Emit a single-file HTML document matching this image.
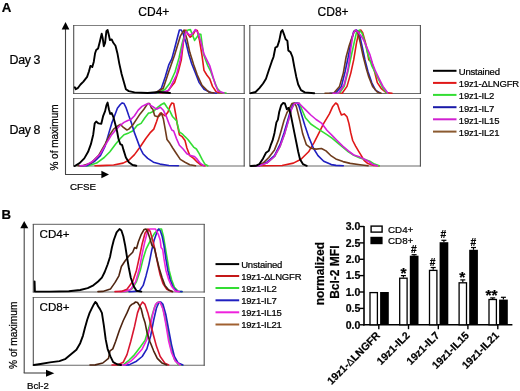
<!DOCTYPE html>
<html><head><meta charset="utf-8"><style>
html,body{margin:0;padding:0;background:#fff;}
body{width:520px;height:391px;overflow:hidden;}
svg{display:block;font-family:"Liberation Sans", sans-serif;will-change:transform;}
text{stroke:#000;stroke-width:0.22px;paint-order:stroke;}
</style></head><body>
<svg width="520" height="391" viewBox="0 0 520 391">
<rect width="520" height="391" fill="#fff"/>
<text x="1.8" y="12.1" font-size="13.3" font-weight="bold" text-anchor="start" >A</text>
<text x="138.3" y="16.2" font-size="12" font-weight="normal" text-anchor="start" >CD4+</text>
<text x="317.6" y="16.2" font-size="12" font-weight="normal" text-anchor="start" >CD8+</text>
<text x="9.6" y="63.6" font-size="12.4" font-weight="normal" text-anchor="start" letter-spacing="-0.4">Day 3</text>
<text x="9.6" y="133.6" font-size="12.4" font-weight="normal" text-anchor="start" letter-spacing="-0.4">Day 8</text>
<line x1="73.2" y1="25.5" x2="244.7" y2="25.5" stroke="#808080" stroke-width="1.1"/><line x1="73.2" y1="93.5" x2="244.7" y2="93.5" stroke="#6a6a6a" stroke-width="1.1"/><line x1="73.7" y1="25.0" x2="73.7" y2="94.0" stroke="#505050" stroke-width="1.1"/><line x1="244.2" y1="25.0" x2="244.2" y2="94.0" stroke="#505050" stroke-width="1.1"/>
<line x1="249.3" y1="25.5" x2="420.9" y2="25.5" stroke="#808080" stroke-width="1.1"/><line x1="249.3" y1="93.5" x2="420.9" y2="93.5" stroke="#6a6a6a" stroke-width="1.1"/><line x1="249.8" y1="25.0" x2="249.8" y2="94.0" stroke="#505050" stroke-width="1.1"/><line x1="420.4" y1="25.0" x2="420.4" y2="94.0" stroke="#505050" stroke-width="1.1"/>
<line x1="73.2" y1="98.5" x2="244.7" y2="98.5" stroke="#808080" stroke-width="1.1"/><line x1="73.2" y1="166" x2="244.7" y2="166" stroke="#6a6a6a" stroke-width="1.1"/><line x1="73.7" y1="98.0" x2="73.7" y2="166.5" stroke="#505050" stroke-width="1.1"/><line x1="244.2" y1="98.0" x2="244.2" y2="166.5" stroke="#505050" stroke-width="1.1"/>
<line x1="249.3" y1="98.5" x2="420.9" y2="98.5" stroke="#808080" stroke-width="1.1"/><line x1="249.3" y1="166" x2="420.9" y2="166" stroke="#6a6a6a" stroke-width="1.1"/><line x1="249.8" y1="98.0" x2="249.8" y2="166.5" stroke="#505050" stroke-width="1.1"/><line x1="420.4" y1="98.0" x2="420.4" y2="166.5" stroke="#505050" stroke-width="1.1"/>
<polyline points="160.0,93.0 167.0,92.0 174.6,82.6 178.4,71.2 181.3,59.9 183.1,44.7 184.7,31.5 186.0,30.0 187.9,34.3 190.2,37.2 192.6,35.3 195.5,30.0 197.3,30.5 199.6,40.9 202.1,56.1 204.0,70.3 206.8,75.0 209.7,78.8 212.5,86.4 216.3,92.0 222.0,93.0" fill="none" stroke="#e01818" stroke-width="1.6" stroke-linejoin="round" stroke-linecap="round"/>
<polyline points="158.0,93.0 165.2,89.2 170.0,83.0 175.0,72.0 179.0,58.0 182.0,44.0 185.0,33.0 188.0,30.0 190.4,29.6 192.5,35.0 194.6,40.4 197.0,37.0 199.0,34.0 200.8,34.2 202.3,45.0 203.5,54.0 204.9,58.0 207.8,65.6 210.6,71.2 213.4,78.8 217.2,88.3 221.0,92.5 226.0,93.0" fill="none" stroke="#33dd33" stroke-width="1.6" stroke-linejoin="round" stroke-linecap="round"/>
<polyline points="150.0,93.0 156.6,92.6 161.4,88.3 165.2,76.9 168.9,64.6 171.8,58.9 174.6,48.5 177.5,37.2 179.4,30.0 181.3,30.0 183.1,33.4 186.0,42.8 188.8,54.2 191.7,63.7 195.5,73.1 199.2,82.6 204.0,89.2 210.6,92.5 216.3,93.2" fill="none" stroke="#2020c0" stroke-width="1.6" stroke-linejoin="round" stroke-linecap="round"/>
<polyline points="155.0,93.0 163.3,88.3 168.9,71.2 174.6,55.1 180.3,36.2 184.1,30.0 186.9,39.0 189.8,52.3 193.6,64.6 197.3,75.0 202.0,85.4 208.7,92.0 214.0,93.0" fill="none" stroke="#6e3b1c" stroke-width="1.6" stroke-linejoin="round" stroke-linecap="round"/>
<polyline points="160.0,93.0 168.9,90.2 176.5,75.0 180.3,59.9 183.1,42.8 186.0,31.5 189.8,35.3 192.6,33.4 195.5,29.6 198.3,33.4 201.1,42.8 204.0,54.2 206.8,59.9 209.7,65.6 212.5,75.0 215.3,84.5 218.2,91.1 224.0,93.0" fill="none" stroke="#d41ed8" stroke-width="1.6" stroke-linejoin="round" stroke-linecap="round"/>
<polyline points="74.8,87.3 75.8,89.2 77.7,88.2 80.5,84.5 83.4,81.6 87.1,76.9 89.0,71.2 90.4,65.9 92.3,67.0 93.8,61.7 95.1,53.2 96.2,50.0 98.1,48.5 100.0,40.9 101.7,33.7 102.7,38.1 103.8,46.2 105.1,42.8 106.4,31.1 107.6,30.0 108.9,35.2 109.9,40.0 111.7,39.4 113.3,42.8 115.5,45.7 117.4,53.2 119.3,63.6 121.6,74.0 124.0,82.6 125.9,89.2 128.8,91.1 134.5,92.4 147.7,93.0 159.0,92.0 170.0,93.0" fill="none" stroke="#000000" stroke-width="1.9" stroke-linejoin="round" stroke-linecap="round"/>
<polyline points="338.0,93.2 342.3,93.0 347.0,86.4 350.8,73.1 353.7,59.9 356.5,42.8 358.8,32.4 360.7,30.0 362.6,32.4 365.0,40.9 366.9,48.5 368.8,59.9 371.7,61.7 374.5,71.2 377.3,82.6 381.1,88.3 385.9,92.5 392.0,93.2" fill="none" stroke="#e01818" stroke-width="1.6" stroke-linejoin="round" stroke-linecap="round"/>
<polyline points="335.0,93.2 339.5,93.0 344.2,86.4 348.0,71.2 350.8,58.0 353.7,44.7 356.5,32.4 359.4,30.0 362.2,33.4 365.0,42.8 367.9,54.2 371.7,65.6 375.5,73.1 379.2,80.7 383.0,88.3 386.8,93.0" fill="none" stroke="#33dd33" stroke-width="1.6" stroke-linejoin="round" stroke-linecap="round"/>
<polyline points="330.0,93.2 335.7,93.0 341.4,86.4 345.2,71.2 348.0,58.0 350.8,42.8 353.7,31.5 356.5,30.0 359.4,34.3 362.2,46.6 365.0,59.9 367.9,71.2 371.7,82.6 375.5,90.2 380.2,93.2" fill="none" stroke="#2020c0" stroke-width="1.6" stroke-linejoin="round" stroke-linecap="round"/>
<polyline points="325.0,93.2 333.8,93.0 339.5,86.4 343.3,73.1 346.1,57.0 348.9,46.6 351.8,38.1 354.6,30.5 357.5,31.5 360.3,42.8 363.1,56.1 366.0,67.4 368.8,76.9 372.6,86.4 377.3,92.0 381.1,93.2" fill="none" stroke="#6e3b1c" stroke-width="1.6" stroke-linejoin="round" stroke-linecap="round"/>
<polyline points="333.0,93.2 338.5,93.0 344.2,84.5 348.0,69.3 350.8,48.5 353.1,33.4 355.6,30.0 358.4,32.4 361.3,36.2 364.1,40.9 366.9,47.6 369.8,54.2 372.6,63.7 375.5,71.2 379.2,78.8 383.0,86.4 387.8,93.0" fill="none" stroke="#d41ed8" stroke-width="1.6" stroke-linejoin="round" stroke-linecap="round"/>
<polyline points="250.8,93.2 255.6,92.0 259.4,88.2 263.1,83.5 266.0,78.8 268.8,70.3 271.7,61.7 273.5,57.0 275.4,47.5 277.3,46.6 279.2,40.9 281.1,31.5 282.4,30.0 284.0,34.3 285.5,39.0 287.4,40.9 288.3,50.4 290.6,52.3 292.5,57.0 294.4,67.4 296.3,76.9 298.2,84.5 301.0,90.1 304.8,92.4 314.2,93.2" fill="none" stroke="#000000" stroke-width="1.9" stroke-linejoin="round" stroke-linecap="round"/>
<polyline points="95.0,165.8 100.4,165.6 113.6,165.0 123.1,163.1 128.8,160.3 134.5,154.6 140.1,147.0 145.8,138.5 150.0,132.9 153.8,129.1 156.6,121.5 158.5,115.8 160.4,113.0 162.3,113.9 165.2,115.8 168.0,112.0 169.9,106.4 171.8,103.0 173.7,103.5 175.6,113.9 177.5,125.3 179.4,134.8 182.2,136.7 185.0,140.5 186.9,148.0 189.8,155.6 193.6,158.4 197.3,162.2 201.1,165.0 204.9,165.8" fill="none" stroke="#e01818" stroke-width="1.6" stroke-linejoin="round" stroke-linecap="round"/>
<polyline points="84.0,165.8 89.0,165.6 96.6,163.1 104.2,157.5 109.9,151.8 115.5,144.2 120.3,138.5 124.0,134.7 128.8,132.9 132.6,131.0 137.3,125.3 141.1,123.4 144.9,117.7 148.6,113.0 150.0,113.0 153.8,111.1 157.6,107.3 161.4,104.5 164.2,103.0 167.0,107.3 169.9,111.1 172.7,116.8 176.5,120.6 179.4,131.9 182.2,133.8 185.0,136.7 187.9,139.5 190.7,143.3 193.6,147.1 196.4,149.0 199.2,153.7 202.1,159.4 204.9,164.1 207.8,165.8" fill="none" stroke="#33dd33" stroke-width="1.6" stroke-linejoin="round" stroke-linecap="round"/>
<polyline points="80.0,165.8 87.1,165.6 94.7,161.2 100.4,155.6 105.1,146.1 108.9,132.9 111.7,123.4 114.6,115.8 117.4,108.2 120.3,104.5 122.2,102.9 124.0,103.5 125.9,107.3 128.8,115.8 131.6,123.4 134.5,132.9 137.3,140.4 140.1,148.0 143.0,153.7 147.7,158.4 153.4,162.2 160.0,164.1 168.9,165.5 178.4,165.8" fill="none" stroke="#2020c0" stroke-width="1.6" stroke-linejoin="round" stroke-linecap="round"/>
<polyline points="78.0,165.8 83.4,165.6 90.9,163.1 98.5,155.6 105.1,144.2 109.9,134.7 113.6,129.1 117.4,126.2 120.3,124.3 123.1,127.2 126.9,130.0 128.8,129.1 132.6,125.3 136.3,119.6 140.1,113.9 143.9,109.2 147.7,103.5 149.6,103.5 151.5,108.2 152.8,109.2 154.7,115.8 157.6,116.8 159.5,115.8 161.4,113.0 163.3,118.7 165.2,129.1 167.0,139.5 169.9,143.3 172.7,148.0 176.5,153.7 180.3,159.4 185.0,162.2 189.8,164.7 195.5,165.8" fill="none" stroke="#6e3b1c" stroke-width="1.6" stroke-linejoin="round" stroke-linecap="round"/>
<polyline points="80.0,165.8 85.2,165.6 92.8,161.2 100.4,153.7 107.0,142.3 111.7,134.7 116.5,129.1 120.3,125.3 124.0,122.4 127.8,120.5 130.7,119.6 134.5,115.8 138.2,110.1 142.0,106.4 145.8,104.5 148.6,103.5 151.5,106.0 153.8,107.3 156.6,109.2 160.4,107.3 163.3,110.2 166.1,115.8 168.9,123.4 171.8,130.0 173.7,131.0 176.5,138.6 179.4,145.2 183.1,149.0 186.9,153.7 190.7,155.6 194.5,156.5 197.3,159.4 200.2,163.2 204.0,165.8" fill="none" stroke="#d41ed8" stroke-width="1.6" stroke-linejoin="round" stroke-linecap="round"/>
<polyline points="74.8,166.0 79.6,163.1 84.3,158.4 88.1,151.8 90.9,144.2 93.2,134.7 94.7,123.4 96.2,121.5 98.5,123.4 101.3,123.8 103.2,115.8 105.1,111.1 106.4,105.4 107.6,102.6 108.9,109.2 110.2,113.9 111.7,113.0 113.3,116.8 115.1,123.4 117.0,131.0 118.4,138.5 120.3,144.2 122.2,145.2 123.5,149.9 125.9,157.5 128.8,162.2 132.6,165.0 136.3,165.8" fill="none" stroke="#000000" stroke-width="1.9" stroke-linejoin="round" stroke-linecap="round"/>
<polyline points="258.0,165.8 263.1,165.7 282.1,165.5 293.4,163.1 301.0,159.3 308.6,151.8 314.2,142.3 319.0,132.9 323.7,123.4 329.4,113.9 332.8,106.4 335.7,103.0 337.6,104.5 339.5,110.2 341.4,114.9 344.2,113.9 347.0,116.8 348.9,123.4 350.8,132.9 352.7,140.5 355.6,146.1 358.4,150.9 361.3,155.6 364.1,160.3 367.9,163.6 373.6,165.5 379.2,165.8" fill="none" stroke="#e01818" stroke-width="1.6" stroke-linejoin="round" stroke-linecap="round"/>
<polyline points="254.0,165.8 259.4,165.6 266.9,163.1 274.5,156.5 280.2,146.1 284.9,132.9 288.7,119.6 291.5,109.2 294.4,103.5 298.5,103.0 300.0,105.0 302.5,111.0 305.4,117.7 310.8,124.0 316.1,127.6 321.5,131.2 326.9,134.7 332.3,138.3 337.6,142.8 343.0,147.3 348.4,151.8 353.8,155.3 360.0,158.0 365.0,159.4 369.8,161.3 374.5,164.1 379.2,165.8" fill="none" stroke="#33dd33" stroke-width="1.6" stroke-linejoin="round" stroke-linecap="round"/>
<polyline points="254.0,165.8 259.4,165.6 266.9,162.2 274.5,155.6 280.2,144.2 284.0,132.9 287.7,120.5 290.6,110.1 293.4,103.5 297.2,103.0 299.1,106.4 301.9,115.8 304.8,125.3 308.6,136.6 313.3,148.0 318.0,155.6 323.7,161.2 331.3,164.6 336.0,165.4 343.3,165.8" fill="none" stroke="#2020c0" stroke-width="1.6" stroke-linejoin="round" stroke-linecap="round"/>
<polyline points="252.0,165.8 257.5,165.6 263.1,163.1 268.8,157.5 274.5,149.9 278.3,140.4 281.1,131.0 284.0,120.5 286.8,113.0 289.6,108.2 291.9,103.5 294.4,103.0 296.3,106.4 298.2,113.9 300.0,121.3 302.7,133.8 306.3,144.6 310.8,148.2 316.1,149.1 321.5,148.5 326.0,150.9 330.5,155.3 335.8,158.9 343.0,161.6 350.2,163.4 360.0,164.7 368.0,165.8" fill="none" stroke="#6e3b1c" stroke-width="1.6" stroke-linejoin="round" stroke-linecap="round"/>
<polyline points="254.0,165.8 259.4,165.6 266.9,163.1 274.5,156.5 280.2,146.1 284.9,132.9 288.7,119.6 291.5,109.2 294.4,103.5 299.1,103.0 300.0,104.3 305.4,109.6 310.8,115.0 316.1,119.5 321.5,123.1 326.9,130.3 332.3,135.6 337.6,141.0 343.0,146.4 348.4,150.9 353.8,155.0 360.0,157.1 365.0,159.5 368.8,161.5 372.6,164.5 377.3,165.8" fill="none" stroke="#d41ed8" stroke-width="1.6" stroke-linejoin="round" stroke-linecap="round"/>
<polyline points="250.8,166.0 255.6,165.8 259.4,164.1 263.1,158.4 266.0,152.7 268.8,150.8 270.7,145.2 272.6,140.4 274.5,132.9 276.4,122.4 277.9,119.6 279.2,112.0 281.1,105.4 283.0,103.0 284.9,103.5 286.8,109.2 288.7,107.9 290.6,113.9 292.5,123.4 294.4,132.9 296.3,142.3 298.2,151.8 300.0,159.3 302.9,164.1 306.7,165.8" fill="none" stroke="#000000" stroke-width="1.9" stroke-linejoin="round" stroke-linecap="round"/>
<line x1="65.5" y1="28" x2="65.5" y2="174.5" stroke="#444444" stroke-width="1.1"/>
<line x1="65" y1="174.5" x2="103" y2="174.5" stroke="#444444" stroke-width="1.1"/>
<polygon points="65.5,22 61.7,29.5 69.4,29.5" fill="#000"/>
<polygon points="109,174.5 101.4,170.8 101.4,178.2" fill="#000"/>
<text x="0" y="0" font-size="10" font-weight="normal" text-anchor="middle" transform="translate(57.6,137.5) rotate(-90)">% of maximum</text>
<text x="70" y="190.4" font-size="9.8" font-weight="normal" text-anchor="start" >CFSE</text>
<line x1="433" y1="70.8" x2="456.5" y2="70.8" stroke="#000000" stroke-width="2"/>
<text x="458.8" y="75.3" font-size="9.5" font-weight="normal" text-anchor="start" letter-spacing="-0.2">Unstained</text>
<line x1="433" y1="82.9" x2="456.5" y2="82.9" stroke="#e01818" stroke-width="2"/>
<text x="458.8" y="87.4" font-size="9.5" font-weight="normal" text-anchor="start" letter-spacing="-0.2">19z1-ΔLNGFR</text>
<line x1="433" y1="94.9" x2="456.5" y2="94.9" stroke="#33dd33" stroke-width="2"/>
<text x="458.8" y="99.4" font-size="9.5" font-weight="normal" text-anchor="start" letter-spacing="-0.2">19z1-IL2</text>
<line x1="433" y1="107.2" x2="456.5" y2="107.2" stroke="#1a1aa8" stroke-width="2"/>
<text x="458.8" y="111.7" font-size="9.5" font-weight="normal" text-anchor="start" letter-spacing="-0.2">19z1-IL7</text>
<line x1="433" y1="119.3" x2="456.5" y2="119.3" stroke="#d020d0" stroke-width="2"/>
<text x="458.8" y="123.8" font-size="9.5" font-weight="normal" text-anchor="start" letter-spacing="-0.2">19z1-IL15</text>
<line x1="433" y1="131.6" x2="456.5" y2="131.6" stroke="#8b5a30" stroke-width="2"/>
<text x="458.8" y="136.1" font-size="9.5" font-weight="normal" text-anchor="start" letter-spacing="-0.2">19z1-IL21</text>
<text x="1.5" y="218.9" font-size="13.2" font-weight="bold" text-anchor="start" >B</text>
<line x1="32.8" y1="224.4" x2="204.7" y2="224.4" stroke="#808080" stroke-width="1.1"/><line x1="32.8" y1="292" x2="204.7" y2="292" stroke="#6a6a6a" stroke-width="1.1"/><line x1="33.3" y1="223.9" x2="33.3" y2="292.5" stroke="#505050" stroke-width="1.1"/><line x1="204.2" y1="223.9" x2="204.2" y2="292.5" stroke="#505050" stroke-width="1.1"/>
<line x1="32.8" y1="297.5" x2="204.7" y2="297.5" stroke="#808080" stroke-width="1.1"/><line x1="32.8" y1="365.2" x2="204.7" y2="365.2" stroke="#6a6a6a" stroke-width="1.1"/><line x1="33.3" y1="297.0" x2="33.3" y2="365.7" stroke="#505050" stroke-width="1.1"/><line x1="204.2" y1="297.0" x2="204.2" y2="365.7" stroke="#505050" stroke-width="1.1"/>
<polyline points="122.0,291.6 127.0,291.4 132.7,288.2 136.5,281.6 140.3,270.2 143.1,258.9 146.0,249.4 148.8,243.7 151.7,238.0 154.5,233.3 157.3,230.5 159.6,229.0 161.5,229.0 163.4,236.2 165.3,247.5 167.2,258.9 169.1,270.2 171.6,279.7 174.4,287.3 178.2,291.3 182.0,291.6" fill="none" stroke="#33dd33" stroke-width="1.6" stroke-linejoin="round" stroke-linecap="round"/>
<polyline points="129.0,291.6 133.7,291.4 139.4,291.0 143.2,285.4 146.0,275.9 148.9,264.6 151.5,251.3 154.2,239.9 156.8,232.4 158.5,229.0 160.2,230.5 162.1,236.2 164.0,245.6 165.9,258.9 167.8,270.2 170.2,279.7 173.1,287.3 177.2,291.3 182.0,291.6" fill="none" stroke="#2020c0" stroke-width="1.6" stroke-linejoin="round" stroke-linecap="round"/>
<polyline points="120.0,291.6 125.3,291.4 130.9,289.2 135.7,281.6 139.5,268.3 142.3,253.2 144.8,241.8 147.3,232.4 149.5,229.0 152.6,229.0 155.5,229.0 158.3,234.3 160.2,239.9 161.1,247.5 162.7,249.4 164.0,258.9 165.9,270.2 168.7,279.7 171.6,286.3 175.3,291.1 179.1,291.6" fill="none" stroke="#ee22dd" stroke-width="1.6" stroke-linejoin="round" stroke-linecap="round"/>
<polyline points="115.0,291.6 121.4,291.4 127.0,289.2 132.7,281.6 136.5,270.2 139.4,257.0 142.2,243.7 145.0,233.3 147.9,229.0 150.2,231.4 152.6,239.9 154.5,247.5 156.4,257.0 158.3,266.5 160.2,275.0 163.0,283.5 166.8,289.2 171.6,291.6" fill="none" stroke="#d81530" stroke-width="1.6" stroke-linejoin="round" stroke-linecap="round"/>
<polyline points="98.0,291.6 102.8,291.4 110.4,289.1 115.1,282.4 118.9,275.8 121.4,266.5 125.2,260.8 128.9,256.0 132.7,252.2 134.6,247.5 136.5,248.5 138.4,241.8 141.3,234.3 144.1,229.5 146.0,229.0 147.9,232.4 149.8,238.0 152.0,245.6 154.5,248.5 156.4,257.0 159.2,268.3 162.1,277.8 164.9,285.4 168.7,290.1 172.5,291.6" fill="none" stroke="#4e2410" stroke-width="1.6" stroke-linejoin="round" stroke-linecap="round"/>
<polyline points="34.6,281.5 34.9,291.5 35.7,291.6 49.9,291.6 68.8,291.2 80.2,290.0 87.7,288.1 93.4,285.3 98.1,281.5 101.9,277.7 104.7,272.0 107.6,264.5 110.0,257.0 111.9,247.5 113.8,240.0 116.6,232.4 119.5,229.0 121.4,230.5 123.3,236.2 125.2,245.6 127.0,257.0 128.9,268.3 130.8,277.8 133.7,286.3 136.5,290.7 141.3,291.6" fill="none" stroke="#000000" stroke-width="1.9" stroke-linejoin="round" stroke-linecap="round"/>
<polyline points="118.0,365.0 123.3,364.9 128.9,360.3 134.6,354.6 140.3,347.0 145.0,340.4 148.8,328.1 151.7,316.7 154.5,307.3 157.3,302.5 159.6,302.0 162.1,305.4 164.9,316.7 167.8,331.9 170.6,347.0 174.4,359.3 178.2,364.5 182.0,365.0" fill="none" stroke="#33dd33" stroke-width="1.6" stroke-linejoin="round" stroke-linecap="round"/>
<polyline points="124.0,365.0 128.9,364.9 136.5,361.2 142.2,356.5 146.9,348.9 150.7,335.7 153.6,320.5 156.4,308.2 158.9,302.5 160.8,302.0 163.0,304.4 165.9,314.8 168.7,330.0 171.6,345.1 174.4,356.5 178.2,363.1 182.9,365.0" fill="none" stroke="#2020c0" stroke-width="1.6" stroke-linejoin="round" stroke-linecap="round"/>
<polyline points="120.0,365.0 125.2,364.9 130.8,361.2 136.5,355.6 142.2,348.9 146.9,339.5 149.8,328.1 152.6,314.8 155.5,304.4 158.3,302.0 160.2,302.5 163.0,309.2 165.9,324.3 168.7,341.3 171.6,352.7 175.3,361.2 180.1,365.0" fill="none" stroke="#ee22dd" stroke-width="1.6" stroke-linejoin="round" stroke-linecap="round"/>
<polyline points="112.0,365.0 117.6,364.9 123.3,362.2 127.0,354.6 130.8,341.3 134.6,326.2 137.5,312.9 140.3,305.4 142.6,302.0 145.0,304.4 147.9,312.9 150.7,324.3 153.6,335.7 156.4,346.1 160.2,356.5 164.9,363.1 168.7,365.0" fill="none" stroke="#d81530" stroke-width="1.6" stroke-linejoin="round" stroke-linecap="round"/>
<polyline points="90.0,365.0 95.3,364.9 102.8,363.0 108.5,358.3 110.0,350.8 112.8,348.9 115.7,341.3 119.5,330.0 123.3,320.5 127.0,312.9 129.9,306.3 131.8,304.4 133.7,303.5 135.6,302.0 137.5,302.5 139.4,305.4 141.3,309.2 143.1,316.7 145.0,322.4 146.9,331.9 149.8,341.3 153.6,350.8 157.3,358.4 162.1,363.1 166.8,365.0" fill="none" stroke="#4e2410" stroke-width="1.6" stroke-linejoin="round" stroke-linecap="round"/>
<polyline points="33.8,365.0 40.5,364.0 49.9,362.4 59.4,361.1 65.0,359.2 70.7,354.5 76.4,349.8 80.2,343.2 83.0,335.6 84.9,328.0 87.3,319.5 89.6,312.9 91.9,308.2 93.8,304.4 95.3,301.9 96.8,303.5 98.1,306.3 100.0,309.1 101.9,312.9 103.8,325.2 105.7,339.4 107.6,348.8 110.4,356.4 113.2,362.1 117.0,364.3 121.0,365.0" fill="none" stroke="#000000" stroke-width="1.9" stroke-linejoin="round" stroke-linecap="round"/>
<text x="39.6" y="238" font-size="11.6" font-weight="normal" text-anchor="start" >CD4+</text>
<text x="39.6" y="311" font-size="11.6" font-weight="normal" text-anchor="start" >CD8+</text>
<line x1="24.2" y1="227" x2="24.2" y2="373" stroke="#444444" stroke-width="1.1"/>
<line x1="23.7" y1="373" x2="48" y2="373" stroke="#444444" stroke-width="1.1"/>
<polygon points="24.2,221 20.3,228.3 28.3,228.3" fill="#000"/>
<polygon points="54.3,373.3 46,369.8 46,376.8" fill="#000"/>
<text x="0" y="0" font-size="10.2" font-weight="normal" text-anchor="middle" transform="translate(16.6,335.3) rotate(-90)">% of maximum</text>
<text x="27" y="388.5" font-size="9.6" font-weight="normal" text-anchor="start" >Bcl-2</text>
<line x1="215.5" y1="264.1" x2="239.2" y2="264.1" stroke="#000000" stroke-width="2"/>
<text x="241.2" y="267.8" font-size="9.5" font-weight="normal" text-anchor="start" letter-spacing="-0.2">Unstained</text>
<line x1="215.5" y1="276" x2="239.2" y2="276" stroke="#c41818" stroke-width="2"/>
<text x="241.2" y="279.7" font-size="9.5" font-weight="normal" text-anchor="start" letter-spacing="-0.2">19z1-ΔLNGFR</text>
<line x1="215.5" y1="288" x2="239.2" y2="288" stroke="#33dd33" stroke-width="2"/>
<text x="241.2" y="291.7" font-size="9.5" font-weight="normal" text-anchor="start" letter-spacing="-0.2">19z1-IL2</text>
<line x1="215.5" y1="300.3" x2="239.2" y2="300.3" stroke="#2020c0" stroke-width="2"/>
<text x="241.2" y="304.0" font-size="9.5" font-weight="normal" text-anchor="start" letter-spacing="-0.2">19z1-IL7</text>
<line x1="215.5" y1="312.3" x2="239.2" y2="312.3" stroke="#ee22dd" stroke-width="2"/>
<text x="241.2" y="316.0" font-size="9.5" font-weight="normal" text-anchor="start" letter-spacing="-0.2">19z1-IL15</text>
<line x1="215.5" y1="324.5" x2="239.2" y2="324.5" stroke="#a06030" stroke-width="2"/>
<text x="241.2" y="328.2" font-size="9.5" font-weight="normal" text-anchor="start" letter-spacing="-0.2">19z1-IL21</text>
<line x1="364" y1="226.0" x2="364" y2="325.5" stroke="#000" stroke-width="1.6"/>
<line x1="363.2" y1="324.8" x2="512.4" y2="324.8" stroke="#000" stroke-width="1.6"/>
<line x1="359.5" y1="324.8" x2="364" y2="324.8" stroke="#000" stroke-width="1.4"/>
<text x="360.3" y="328.5" font-size="10.5" font-weight="bold" text-anchor="end" >0.0</text>
<line x1="359.5" y1="308.4" x2="364" y2="308.4" stroke="#000" stroke-width="1.4"/>
<text x="360.3" y="312.1166666666667" font-size="10.5" font-weight="bold" text-anchor="end" >0.5</text>
<line x1="359.5" y1="292.0" x2="364" y2="292.0" stroke="#000" stroke-width="1.4"/>
<text x="360.3" y="295.73333333333335" font-size="10.5" font-weight="bold" text-anchor="end" >1.0</text>
<line x1="359.5" y1="275.6" x2="364" y2="275.6" stroke="#000" stroke-width="1.4"/>
<text x="360.3" y="279.34999999999997" font-size="10.5" font-weight="bold" text-anchor="end" >1.5</text>
<line x1="359.5" y1="259.3" x2="364" y2="259.3" stroke="#000" stroke-width="1.4"/>
<text x="360.3" y="262.96666666666664" font-size="10.5" font-weight="bold" text-anchor="end" >2.0</text>
<line x1="359.5" y1="242.9" x2="364" y2="242.9" stroke="#000" stroke-width="1.4"/>
<text x="360.3" y="246.58333333333331" font-size="10.5" font-weight="bold" text-anchor="end" >2.5</text>
<line x1="359.5" y1="226.5" x2="364" y2="226.5" stroke="#000" stroke-width="1.4"/>
<text x="360.3" y="230.2" font-size="10.5" font-weight="bold" text-anchor="end" >3.0</text>
<line x1="378.8" y1="324.8" x2="378.8" y2="329.2" stroke="#000" stroke-width="1.4"/>
<line x1="408.5" y1="324.8" x2="408.5" y2="329.2" stroke="#000" stroke-width="1.4"/>
<line x1="438.3" y1="324.8" x2="438.3" y2="329.2" stroke="#000" stroke-width="1.4"/>
<line x1="467.9" y1="324.8" x2="467.9" y2="329.2" stroke="#000" stroke-width="1.4"/>
<line x1="497.8" y1="324.8" x2="497.8" y2="329.2" stroke="#000" stroke-width="1.4"/>
<rect x="370.0" y="292.6" width="7.4" height="32.2" fill="#fff" stroke="#000" stroke-width="1.3"/>
<rect x="380.1" y="292.0" width="8.7" height="32.8" fill="#000"/>
<line x1="403.4" y1="275.6" x2="403.4" y2="277.6" stroke="#000" stroke-width="1.2"/>
<line x1="400.9" y1="275.6" x2="405.9" y2="275.6" stroke="#000" stroke-width="1.2"/>
<line x1="414.1" y1="254.7" x2="414.1" y2="255.7" stroke="#000" stroke-width="1.2"/>
<line x1="411.6" y1="254.7" x2="416.6" y2="254.7" stroke="#000" stroke-width="1.2"/>
<rect x="399.7" y="278.2" width="7.4" height="46.6" fill="#fff" stroke="#000" stroke-width="1.3"/>
<rect x="409.8" y="255.7" width="8.7" height="69.1" fill="#000"/>
<line x1="433.2" y1="267.5" x2="433.2" y2="269.8" stroke="#000" stroke-width="1.2"/>
<line x1="430.7" y1="267.5" x2="435.7" y2="267.5" stroke="#000" stroke-width="1.2"/>
<line x1="443.9" y1="240.3" x2="443.9" y2="242.2" stroke="#000" stroke-width="1.2"/>
<line x1="441.4" y1="240.3" x2="446.4" y2="240.3" stroke="#000" stroke-width="1.2"/>
<rect x="429.5" y="270.4" width="7.4" height="54.4" fill="#fff" stroke="#000" stroke-width="1.3"/>
<rect x="439.6" y="242.2" width="8.7" height="82.6" fill="#000"/>
<line x1="462.8" y1="279.9" x2="462.8" y2="282.2" stroke="#000" stroke-width="1.2"/>
<line x1="460.3" y1="279.9" x2="465.3" y2="279.9" stroke="#000" stroke-width="1.2"/>
<line x1="473.5" y1="247.5" x2="473.5" y2="249.8" stroke="#000" stroke-width="1.2"/>
<line x1="471.0" y1="247.5" x2="476.0" y2="247.5" stroke="#000" stroke-width="1.2"/>
<rect x="459.1" y="282.8" width="7.4" height="42.0" fill="#fff" stroke="#000" stroke-width="1.3"/>
<rect x="469.2" y="249.8" width="8.7" height="75.0" fill="#000"/>
<line x1="492.7" y1="297.9" x2="492.7" y2="298.9" stroke="#000" stroke-width="1.2"/>
<line x1="490.2" y1="297.9" x2="495.2" y2="297.9" stroke="#000" stroke-width="1.2"/>
<line x1="503.4" y1="297.3" x2="503.4" y2="299.6" stroke="#000" stroke-width="1.2"/>
<line x1="500.9" y1="297.3" x2="505.9" y2="297.3" stroke="#000" stroke-width="1.2"/>
<rect x="489.0" y="299.5" width="7.4" height="25.3" fill="#fff" stroke="#000" stroke-width="1.3"/>
<rect x="499.1" y="299.6" width="8.7" height="25.2" fill="#000"/>
<text x="403.4" y="278.2" font-size="15.5" font-weight="bold" text-anchor="middle" >*</text>
<text x="413.8" y="252.5" font-size="10.2" font-weight="bold" text-anchor="middle" >#</text>
<text x="432.6" y="265.6" font-size="10.2" font-weight="bold" text-anchor="middle" >#</text>
<text x="443.4" y="238.3" font-size="10.2" font-weight="bold" text-anchor="middle" >#</text>
<text x="462.3" y="282.2" font-size="15.5" font-weight="bold" text-anchor="middle" >*</text>
<text x="473.3" y="245.5" font-size="10.2" font-weight="bold" text-anchor="middle" >#</text>
<text x="491.6" y="299.7" font-size="15.5" font-weight="bold" text-anchor="middle" >**</text>
<rect x="371.1" y="226.1" width="11" height="6" fill="#fff" stroke="#000" stroke-width="1.4"/>
<rect x="370.4" y="236.8" width="12.2" height="7.4" fill="#000"/>
<text x="388" y="232.6" font-size="9.8" font-weight="normal" text-anchor="start" >CD4+</text>
<text x="388" y="243.9" font-size="9.8" font-weight="normal" text-anchor="start" >CD8+</text>
<text x="0" y="0" font-size="12" font-weight="bold" text-anchor="middle" transform="translate(324.2,273.7) rotate(-90)">normalized</text>
<text x="0" y="0" font-size="12" font-weight="bold" text-anchor="middle" transform="translate(338.5,272.2) rotate(-90)">Bcl-2 MFI</text>
<text x="0" y="0" font-size="10.5" font-weight="bold" text-anchor="end" transform="translate(380.6,336.1) rotate(-45)">19z1-<tspan font-weight="normal">Δ</tspan>LNGFR</text>
<text x="0" y="0" font-size="10.5" font-weight="bold" text-anchor="end" transform="translate(410.3,336.1) rotate(-45)">19z1-IL2</text>
<text x="0" y="0" font-size="10.5" font-weight="bold" text-anchor="end" transform="translate(440.1,336.1) rotate(-45)">19z1-IL7</text>
<text x="0" y="0" font-size="10.5" font-weight="bold" text-anchor="end" transform="translate(469.7,336.1) rotate(-45)">19z1-IL15</text>
<text x="0" y="0" font-size="10.5" font-weight="bold" text-anchor="end" transform="translate(499.6,336.1) rotate(-45)">19z1-IL21</text>
</svg>
</body></html>
